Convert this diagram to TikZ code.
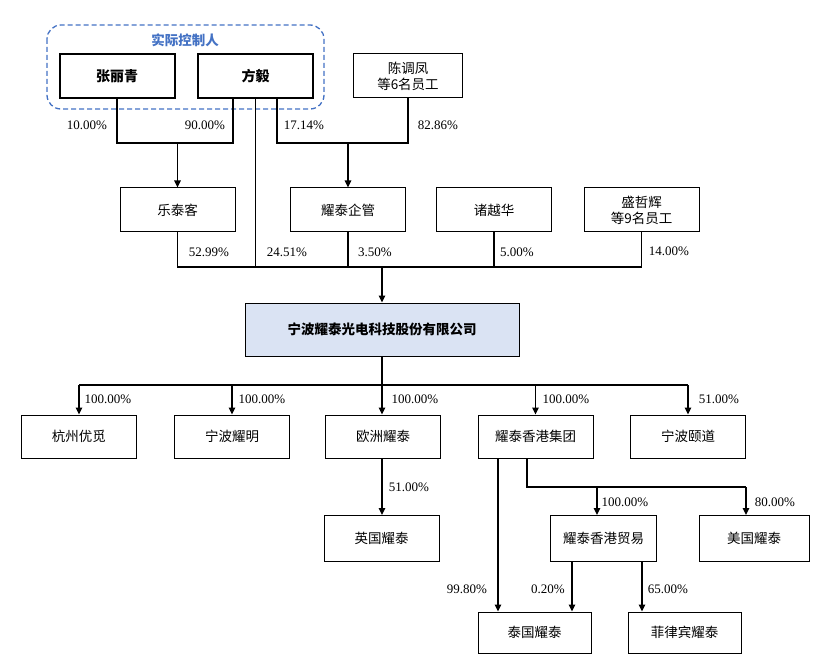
\documentclass[tikz,border=0pt]{standalone}
\usepackage{fontspec}
\setmainfont{Liberation Serif}
\newfontfamily\cjk{Noto Sans CJK SC}
\usetikzlibrary{arrows.meta}
\definecolor{ctrlblue}{HTML}{4472C4}
\definecolor{mainfill}{HTML}{DAE3F3}
\begin{document}
\begin{tikzpicture}[x=1pt,y=-1pt,
  box/.style={draw, line width=1pt, inner sep=0pt, align=center, font=\cjk\fontsize{13.5}{16}\selectfont},
  rowbox/.style={box, minimum width=115pt, minimum height=44pt},
  ctrlbox/.style={box, line width=2pt, minimum width=115pt, minimum height=44pt, font=\cjk\bfseries\fontsize{14}{16}\selectfont},
  conn/.style={line width=1.3pt},
  arr/.style={line width=1.3pt, -{Triangle[length=7pt,width=6.5pt]}},
  pct/.style={inner sep=0pt, font=\fontsize{13}{15}\selectfont}]
\useasboundingbox (0,0) rectangle (831,666);

% actual controllers
\draw[ctrlblue, line width=1.3pt, dashed, dash pattern=on 5pt off 3pt, rounded corners=14pt] (47,25) rectangle (324,109);
\node[inner sep=0pt, text=ctrlblue, font=\cjk\bfseries\fontsize{13.5}{16}\selectfont] (ctrl) at (185,40) {实际控制人};
\node[ctrlbox] (zlq) at (117,76) {张丽青};
\node[ctrlbox] (fy) at (255.5,76) {方毅};
\node[box, minimum width=109pt, minimum height=44pt] (cdf) at (408,76) {陈调凤\\等6名员工};

% second row
\node[rowbox] (ltk) at (177.5,210) {乐泰客};
\node[rowbox] (ytqg) at (348,210) {耀泰企管};
\node[rowbox] (zyh) at (494,210) {诸越华};
\node[rowbox] (szh) at (641.5,210) {盛哲辉\\等9名员工};

% main company
\node[box, fill=mainfill, minimum width=274pt, minimum height=53pt, font=\cjk\bfseries\fontsize{13.5}{16}\selectfont] (main) at (382,329.5) {宁波耀泰光电科技股份有限公司};

% third row
\node[rowbox, minimum height=43pt] (hzym) at (79,436.5) {杭州优觅};
\node[rowbox, minimum height=43pt] (nbym) at (232,436.5) {宁波耀明};
\node[rowbox, minimum height=43pt] (ozyt) at (383,436.5) {欧洲耀泰};
\node[rowbox, minimum height=43pt] (ythk) at (535.5,436.5) {耀泰香港集团};
\node[rowbox, minimum height=43pt] (nbyd) at (688,436.5) {宁波颐道};

% fourth row
\node[rowbox, minimum width=115pt, minimum height=46pt] (ukyt) at (381.5,538.5) {英国耀泰};
\node[rowbox, minimum width=106pt, minimum height=46pt] (ythkmy) at (603.5,538.5) {耀泰香港贸易};
\node[rowbox, minimum width=110pt, minimum height=46pt] (usyt) at (754,538.5) {美国耀泰};

% fifth row
\node[rowbox, minimum width=113pt, minimum height=41pt] (thyt) at (534.5,632.5) {泰国耀泰};
\node[rowbox, minimum width=113pt, minimum height=41pt] (phyt) at (684.5,632.5) {菲律宾耀泰};

% junction coordinates
\coordinate (j1) at (177.5,143);
\coordinate (j2) at (348,143);
\coordinate (j3) at (382,267);
\coordinate (j4) at (382,385);
\coordinate (j5) at (527,487);

% controllers -> 乐泰客
\draw[conn] (zlq.south) |- ([xshift=-22.5pt]fy.south |- j1) -- ([xshift=-22.5pt]fy.south);
\draw[arr] (j1) -- (ltk.north);
% -> 耀泰企管
\draw[conn] ([xshift=21.5pt]fy.south) |- (cdf.south |- j2) -- (cdf.south);
\draw[arr] (j2) -- (ytqg.north);
% shareholders -> main
\draw[conn] (ltk.south) |- (szh.south |- j3) -- (szh.south);
\draw[conn] (fy.south) -- (fy.south |- j3);
\draw[conn] (ytqg.south) -- (ytqg.south |- j3);
\draw[conn] (zyh.south) -- (zyh.south |- j3);
\draw[arr] (j3) -- (main.north);
% main -> subsidiaries
\draw[conn] (main.south) -- (j4);
\draw[conn] (hzym.north |- j4) -- (nbyd.north |- j4);
\draw[arr] (hzym.north |- j4) -- (hzym.north);
\draw[arr] (nbym.north |- j4) -- (nbym.north);
\draw[arr] (j4) -- (ozyt.north -| j4);
\draw[arr] (ythk.north |- j4) -- (ythk.north);
\draw[arr] (nbyd.north |- j4) -- (nbyd.north);
% 欧洲耀泰 -> 英国耀泰
\draw[arr] (ozyt.south -| 382,0) -- (ukyt.north -| 382,0);
% 耀泰香港集团 -> ...
\draw[conn] (ythk.south -| j5) -- (j5) -- (746,487);
\draw[arr] (597,487) -- (ythkmy.north -| 597,0);
\draw[arr] (746,487) -- (usyt.north -| 746,0);
\draw[arr] (ythk.south -| 498,0) -- (thyt.north -| 498,0);
\draw[arr] (ythkmy.south -| 572,0) -- (thyt.north -| 572,0);
\draw[arr] (ythkmy.south -| 642,0) -- (phyt.north -| 642,0);

% percentages
\node[pct] (p1) at (87,125) {10.00\%};
\node[pct] (p2) at (205,125) {90.00\%};
\node[pct] (p3) at (304,125) {17.14\%};
\node[pct] (p4) at (438,125) {82.86\%};
\node[pct] (p5) at (209,252) {52.99\%};
\node[pct] (p6) at (287,252) {24.51\%};
\node[pct] (p7) at (375,252) {3.50\%};
\node[pct] (p8) at (517,252) {5.00\%};
\node[pct] (p9) at (669,251) {14.00\%};
\node[pct] (p10) at (108,399) {100.00\%};
\node[pct] (p11) at (262,399) {100.00\%};
\node[pct] (p12) at (415,399) {100.00\%};
\node[pct] (p13) at (566,399) {100.00\%};
\node[pct] (p14) at (719,399) {51.00\%};
\node[pct] (p15) at (409,487) {51.00\%};
\node[pct] (p16) at (625,502) {100.00\%};
\node[pct] (p17) at (775,502) {80.00\%};
\node[pct] (p18) at (467,589) {99.80\%};
\node[pct] (p19) at (548,589) {0.20\%};
\node[pct] (p20) at (668,589) {65.00\%};
\end{tikzpicture}
\end{document}
